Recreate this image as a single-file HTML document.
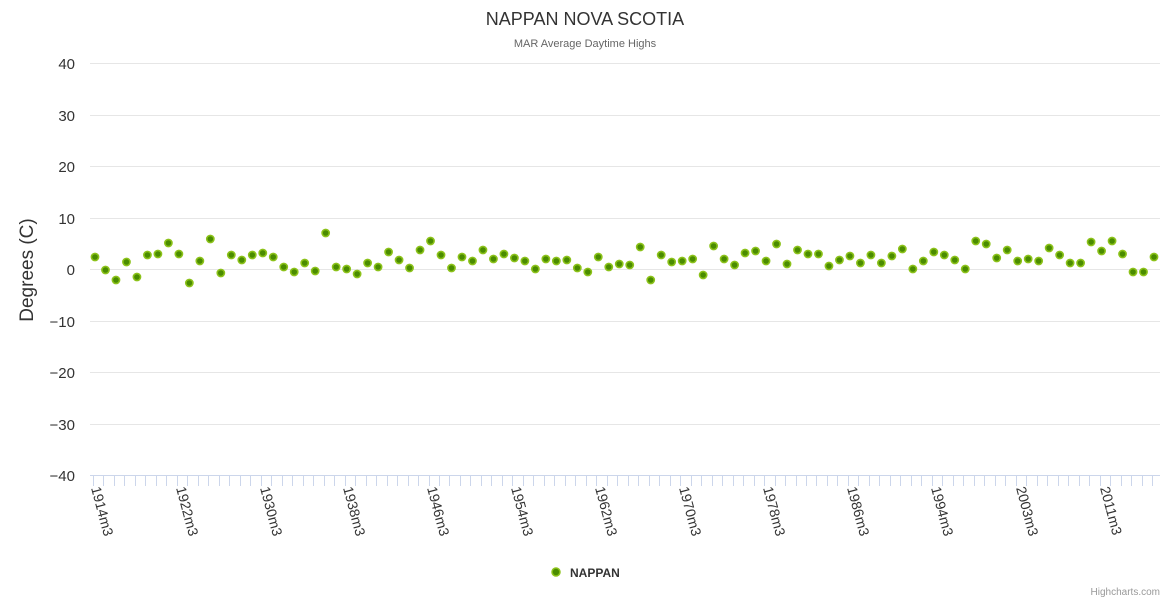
<!DOCTYPE html>
<html><head><meta charset="utf-8"><style>
body{margin:0;background:#fff;}
svg{display:block;font-family:"Liberation Sans",sans-serif;}
</style></head><body>
<svg width="1170" height="600" xmlns="http://www.w3.org/2000/svg">
<text x="585" y="25" text-anchor="middle" font-size="18" fill="#333">NAPPAN NOVA SCOTIA</text>
<text x="585" y="47" text-anchor="middle" font-size="11" fill="#666">MAR Average Daytime Highs</text>
<g stroke="#e6e6e6" stroke-width="1">
<line x1="90" x2="1160" y1="63.5" y2="63.5"/><line x1="90" x2="1160" y1="115.5" y2="115.5"/>
<line x1="90" x2="1160" y1="166.5" y2="166.5"/><line x1="90" x2="1160" y1="218.5" y2="218.5"/>
<line x1="90" x2="1160" y1="269.5" y2="269.5"/><line x1="90" x2="1160" y1="321.5" y2="321.5"/>
<line x1="90" x2="1160" y1="372.5" y2="372.5"/><line x1="90" x2="1160" y1="424.5" y2="424.5"/>
</g>
<line x1="90" x2="1160" y1="475.5" y2="475.5" stroke="#ccd6eb"/>
<g font-size="15" fill="#333" text-anchor="end">
<text x="75" y="69">40</text><text x="75" y="121">30</text><text x="75" y="172">20</text>
<text x="75" y="224">10</text><text x="75" y="275">0</text><text x="75" y="327">−10</text>
<text x="75" y="378">−20</text><text x="75" y="430">−30</text><text x="75" y="481">−40</text>
</g>
<text transform="translate(33,270) rotate(-90)" text-anchor="middle" font-size="19" fill="#333">Degrees (C)</text>
<g id="ticks" stroke="#ccd6eb"></g>
<g id="labels" font-size="14" fill="#333"></g>
<g id="pts"></g>
<circle cx="556" cy="572" r="4" fill="#4a8c00" stroke="#8cc21a" stroke-width="1.5"/>
<text x="570" y="577" font-size="12" font-weight="bold" fill="#333">NAPPAN</text>
<text x="1160" y="595" text-anchor="end" font-size="10" fill="#999">Highcharts.com</text>
<script>
var ys=[257,270,280,262,277,255,254,243,254,283,261,239,273,255,260,255,253,257,267,272,263,271,233,267,269,274,263,267,252,260,268,250,241,255,268,257,261,250,259,254,258,261,269,259,261,260,268,272,257,267,264,265,247,280,255,262,261,259,275,246,259,265,253,251,261,244,264,250,254,254,266,260,256,263,255,263,256,249,269,261,252,255,260,269,241,244,258,250,261,259,261,248,255,263,263,242,251,241,254,272,272,257];
var ns="http://www.w3.org/2000/svg",p=document.getElementById("pts"),t=document.getElementById("ticks"),l=document.getElementById("labels");
var step=(1154-95)/(ys.length-1);
ys.forEach(function(y,i){var c=document.createElementNS(ns,"circle");c.setAttribute("cx",95+i*step);c.setAttribute("cy",y);c.setAttribute("r",3.6);c.setAttribute("fill","#4a8c00");c.setAttribute("stroke","#8cc21a");c.setAttribute("stroke-width","1.6");p.appendChild(c);});
for(var i=0;i<=ys.length;i++){var x=Math.round(93+i*step)+0.5;if(x>1160)break;var ln=document.createElementNS(ns,"line");ln.setAttribute("x1",x);ln.setAttribute("x2",x);ln.setAttribute("y1",476);ln.setAttribute("y2",486);t.appendChild(ln);}
var labs=["1914m3","1922m3","1930m3","1938m3","1946m3","1954m3","1962m3","1970m3","1978m3","1986m3","1994m3","2003m3","2011m3"];
var lx=[93,178,262,345,429,513,597,681,765,849,933,1018,1102];
labs.forEach(function(s,i){var tx=document.createElementNS(ns,"text");tx.setAttribute("transform","translate("+(lx[i]-2)+",488) rotate(75)");tx.textContent=s;l.appendChild(tx);});
</script>
</svg>
</body></html>
